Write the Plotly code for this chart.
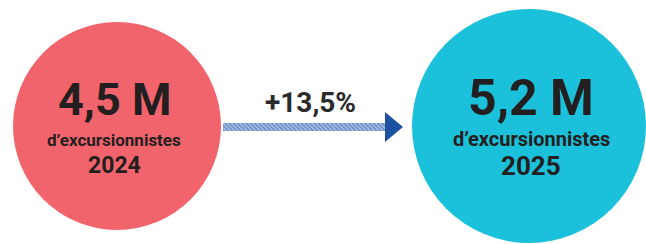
import plotly.graph_objects as go

# data
years = ["2024", "2025"]
values_m = [4.5, 5.2]
value_labels = ["4,5 M", "5,2 M"]
unit_label = "d\u2019excursionnistes"
change_label = "+13,5%"

W, H = 646, 244
FONT = "Roboto, sans-serif"
circle_colors = ["#f2646c", "#1bc0da"]
circle_sizes = [208, 234]
text_color = "#231f20"

fig = go.Figure()

# circles on categorical axis
fig.add_trace(go.Scatter(
    x=years, y=[0, 0], mode="markers",
    marker=dict(size=circle_sizes, color=circle_colors, line=dict(width=0), opacity=1),
    hoverinfo="skip", showlegend=False, cliponaxis=False,
))

# hatched arrow band on a pixel overlay axis
fig.add_trace(go.Bar(
    x=[385 - 223], base=[223], y=[127], width=[8], orientation="h",
    marker=dict(color="#aec6e8", line=dict(width=0),
                pattern=dict(shape="\\", fgcolor="#22509e", size=3, solidity=0.55)),
    xaxis="x2", yaxis="y2", hoverinfo="skip", showlegend=False,
))

fig.add_shape(type="path", path="M 385 112 L 385 142 L 403 127 Z",
              xref="x2", yref="y2", fillcolor="#1d50a0", line=dict(width=0))

# labels (placed at category index of each circle)
xshift = [-3, 2]
big_sizes = [45, 50]
big_shift = [27, 28]
unit_sizes = [17, 20]
unit_shift = [-14, -13]
year_sizes = [23, 26]
year_shift = [-39, -40]
for i, yr in enumerate(years):
    fig.add_annotation(x=i, y=0, text=f"<b>{value_labels[i]}</b>", showarrow=False,
                       xshift=xshift[i], yshift=big_shift[i],
                       font=dict(family=FONT, size=big_sizes[i], color=text_color))
    fig.add_annotation(x=i, y=0, text=f"<b>{unit_label}</b>", showarrow=False,
                       xshift=xshift[i], yshift=unit_shift[i],
                       font=dict(family=FONT, size=unit_sizes[i], color=text_color))
    fig.add_annotation(x=i, y=0, text=f"<b>{yr}</b>", showarrow=False,
                       xshift=xshift[i], yshift=year_shift[i],
                       font=dict(family=FONT, size=year_sizes[i], color=text_color))

fig.add_annotation(x=310, y=102, xref="x2", yref="y2", text=f"<b>{change_label}</b>",
                   showarrow=False, font=dict(family=FONT, size=28, color="#2a2a2a"))

# axes: category 0 at px 117, category 1 at px 529
px0, px1 = 117, 529
unit = px1 - px0
fig.update_layout(
    width=W, height=H, margin=dict(l=0, r=0, t=0, b=0),
    paper_bgcolor="white", plot_bgcolor="white",
    xaxis=dict(type="category", range=[-px0 / unit, (W - px0) / unit], visible=False, fixedrange=True),
    yaxis=dict(range=[-(H - 126) / 126, 1], visible=False, fixedrange=True),
    xaxis2=dict(range=[0, W], overlaying="x", visible=False, fixedrange=True),
    yaxis2=dict(range=[H, 0], overlaying="y", visible=False, fixedrange=True),
    bargap=0,
)

fig.write_html("out.html", config={"displayModeBar": False},
               post_script="document.body.style.margin='0';")
